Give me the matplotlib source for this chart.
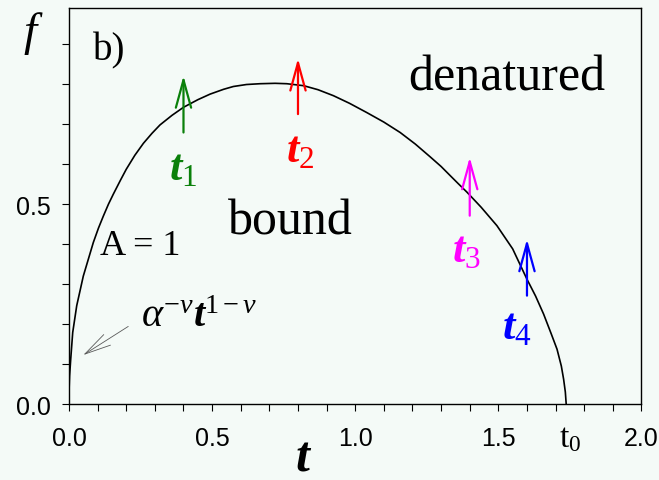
import matplotlib
matplotlib.use("Agg")
import matplotlib.pyplot as plt
from matplotlib.ticker import MultipleLocator

# math italic stays regular, \mathbf gives the bold italic t
plt.rcParams['mathtext.fontset'] = 'custom'
plt.rcParams['mathtext.rm'] = 'Liberation Serif'
plt.rcParams['mathtext.it'] = 'Liberation Serif:italic'
plt.rcParams['mathtext.bf'] = 'Liberation Serif:italic:bold'

# phase boundary f(t) between bound and denatured states
t_curve = [0.000, 0.002, 0.006, 0.013, 0.027, 0.050, 0.085, 0.103, 0.120,
           0.138, 0.155, 0.180, 0.200, 0.230, 0.260, 0.290, 0.318, 0.360,
           0.400, 0.450, 0.493, 0.540, 0.574, 0.620, 0.668, 0.720, 0.761,
           0.820, 0.870, 0.924, 0.980, 1.040, 1.100, 1.157, 1.210, 1.262,
           1.300, 1.332, 1.360, 1.390, 1.440, 1.495, 1.550, 1.600, 1.630,
           1.658, 1.685, 1.705, 1.720, 1.728, 1.734, 1.737]
f_curve = [0.030, 0.070, 0.112, 0.179, 0.246, 0.320, 0.404, 0.440, 0.470,
           0.500, 0.525, 0.560, 0.587, 0.622, 0.652, 0.677, 0.698, 0.722,
           0.742, 0.761, 0.775, 0.787, 0.794, 0.799, 0.801, 0.802, 0.801,
           0.796, 0.786, 0.771, 0.752, 0.729, 0.705, 0.679, 0.650, 0.618,
           0.594, 0.571, 0.551, 0.530, 0.492, 0.446, 0.388, 0.312, 0.270,
           0.225, 0.175, 0.137, 0.095, 0.062, 0.030, 0.000]

# times t1..t4 marked with arrows
arrow_t = [0.40, 0.80, 1.40, 1.60]
arrow_base = [0.679, 0.725, 0.471, 0.271]
arrow_tip = [0.821, 0.864, 0.617, 0.412]
arrow_colors = ['#0a800a', '#ff0000', '#ff00ff', '#0000ff']
label_t = [0.40, 0.808, 1.39, 1.565]
label_f = [0.595, 0.640, 0.388, 0.196]
labels = [r'$\mathbf{t}_{1}$', r'$\mathbf{t}_{2}$',
          r'$\mathbf{t}_{3}$', r'$\mathbf{t}_{4}$']

x_ticks = [0.0, 0.5, 1.0, 1.5, 2.0]
y_ticks = [0.0, 0.5]

bg = '#f4faf7'
fig = plt.figure(figsize=(6.59, 4.81), dpi=100, facecolor=bg)
ax = fig.add_axes([0.1047, 0.158, 0.8687, 0.823], facecolor=bg)

ax.plot(t_curve, f_curve, color='black', lw=1.2)

for t, b, tip, c, lt, lf, lab in zip(arrow_t, arrow_base, arrow_tip,
                                     arrow_colors, label_t, label_f, labels):
    ax.annotate('', xy=(t, tip), xytext=(t, b),
                arrowprops=dict(arrowstyle='->,head_length=2.0,head_width=0.55',
                                mutation_scale=10, lw=1.6, color=c,
                                shrinkA=0, shrinkB=0))
    ax.text(lt, lf, lab, color=c, fontsize=32, ha='center', va='center')

# asymptote near the origin
ax.annotate('', xy=(0.05, 0.1225), xytext=(0.207, 0.194),
            arrowprops=dict(arrowstyle='->,head_length=1.9,head_width=0.45',
                            mutation_scale=10, lw=0.6, color='0.35',
                            shrinkA=0, shrinkB=0))
ax.text(0.25, 0.195, r'$\alpha^{-\nu}\mathbf{t}^{1-\nu}$', fontsize=29,
        ha='left', va='baseline')

serif = 'Liberation Serif'
ax.text(1.185, 0.7875, 'denatured', fontsize=36, family=serif,
        ha='left', va='baseline')
ax.text(0.556, 0.4275, 'bound', fontsize=36, family=serif,
        ha='left', va='baseline')
ax.text(0.108, 0.375, 'A = 1', fontsize=26, family=serif,
        ha='left', va='baseline')
ax.text(0.084, 0.8625, 'b)', fontsize=28, family=serif,
        ha='left', va='baseline')

ax.set_xlim(0, 2.0)
ax.set_ylim(0, 0.99)
ax.set_xticks(x_ticks)
ax.set_yticks(y_ticks)
ax.xaxis.set_minor_locator(MultipleLocator(0.1))
ax.yaxis.set_minor_locator(MultipleLocator(0.1))
ax.tick_params(which='both', direction='out', length=5, width=0.8,
               top=False, right=False)
ax.tick_params(axis='x', which='major', pad=11, labelsize=18)
ax.tick_params(axis='y', which='major', pad=8, labelsize=18)
for lab in ax.get_xticklabels() + ax.get_yticklabels():
    lab.set_family('Liberation Sans')
for s in ax.spines.values():
    s.set_linewidth(1.0)

# axis titles placed by hand
ax.text(0.82, -0.165, r'$\mathbf{t}$', fontsize=36,
        transform=ax.get_xaxis_transform(), ha='center', va='baseline')
ax.text(1.75, -0.083, r'$\mathrm{t}_{0}$', fontsize=24,
        transform=ax.get_xaxis_transform(), ha='center', va='center')
fig.text(0.0455, 0.931, 'f', fontsize=34, family=serif, style='italic',
         ha='center', va='center')

fig.savefig('out.png', dpi=100, facecolor=bg)
